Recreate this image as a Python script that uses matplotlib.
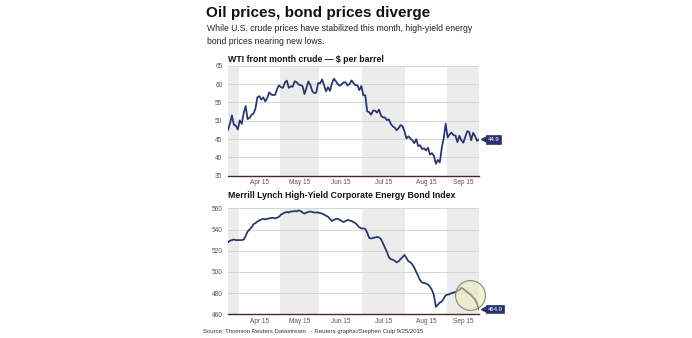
import matplotlib
matplotlib.use("Agg")
import matplotlib.pyplot as plt
import matplotlib.transforms as mtransforms
import numpy as np
import pandas as pd

plt.rcParams['font.family'] = ['Liberation Sans', 'DejaVu Sans']

# ---------------- data ----------------
holidays = ['2015-04-03', '2015-05-25', '2015-07-03', '2015-09-07']
dates = pd.bdate_range('2015-03-24', '2015-09-24')
dates = dates[~dates.isin(pd.to_datetime(holidays))]

wti = [
    47.51, 49.21, 51.43, 48.87, 48.68, 47.60,
    50.09, 49.14, 52.14, 53.98, 50.42, 50.79, 51.64, 51.91, 53.29, 56.39, 56.71,
    55.74, 56.38, 55.26, 56.16, 57.74, 57.15, 56.99, 57.06, 58.58, 59.63,
    59.15, 58.93, 60.40, 60.93, 58.94, 59.39, 59.25, 60.75, 60.50, 59.88, 59.69,
    59.43, 57.26, 58.98, 60.72, 59.72, 58.03, 57.51, 57.68, 60.30,
    60.20, 61.26, 59.64, 58.00, 59.13, 58.14, 60.14, 61.43, 60.77, 59.96, 59.52,
    59.97, 60.45, 60.45, 59.61, 60.01, 61.01, 60.27, 59.70, 59.63, 58.33, 59.47,
    56.96, 56.93, 52.53, 52.33, 51.65, 52.78, 52.74, 52.20, 53.04, 51.41, 50.91,
    50.89, 50.15, 50.36, 49.19, 48.45, 48.14, 47.39, 47.98, 48.79, 48.52, 47.12,
    45.17, 45.74, 45.15, 44.66, 43.87, 44.96, 43.08, 43.30, 42.23, 42.50, 41.87,
    42.62, 40.80, 41.14, 40.45, 38.24, 39.31, 38.60, 42.56, 45.22, 49.20,
    45.41, 46.25, 46.75, 46.05, 45.94, 44.15, 45.92, 44.63, 44.00, 45.59, 47.15,
    46.90, 44.68, 46.68, 45.83, 44.48, 44.91,
]

bond = [
    528, 529.5, 530, 530.5, 530, 530,
    530, 530, 530.5, 534, 538, 540, 542, 545, 546, 547.5, 548.5, 549.5, 550,
    549.5, 550, 550.5, 551, 551, 550.5, 551, 552,
    554, 555, 556, 556.5, 556, 557, 557, 557.5, 557, 558, 557.5, 556, 555, 556,
    556.5, 557, 556.5, 556, 556, 556,
    555.5, 555, 554, 553, 552, 550, 548, 549, 550, 550, 549, 548, 547, 548, 549,
    548.5, 548, 547, 546, 544, 542, 541,
    541, 540.5, 537, 532, 531.5, 532, 532.5, 533, 532.5, 531, 527, 523, 519, 514,
    512, 511.5, 510.5, 509, 510, 512, 514, 516,
    513, 510, 509, 507, 504, 500, 496, 492, 490, 489.5, 489, 488, 486, 483, 478,
    467, 469, 471, 472, 475, 478,
    478.5, 479, 480, 480.5, 481, 482, 483, 485, 484, 482.5, 481, 479.5, 478, 476,
    474, 470, 464.9,
]

wti_ticks = [35, 40, 45, 50, 55, 60, 65]
bond_ticks = [460, 480, 500, 520, 540, 560]
month_names = ['Apr 15', 'May 15', 'Jun 15', 'Jul 15', 'Aug 15', 'Sep 15']
shaded_months = [3, 5, 7, 9]

# ---------------- style ----------------
W, H = 692, 338
NAVY = '#26336e'
GRID = '#d6d6d6'
SHADE = '#ececec'
TICK = '#555555'
AXLINE = '#4a2a22'

fig = plt.figure(figsize=(W / 100, H / 100), dpi=100, facecolor='white')

def fx(x):
    return x / W

def fy(y):
    return 1 - y / H

x = np.arange(len(dates))
months = dates.month
n = len(dates)


def setup(ax, values, ticks, ylim):
    ax.set_xlim(0, n - 1)
    ax.set_ylim(*ylim)
    for m in shaded_months:
        idx = np.where(months == m)[0]
        if len(idx):
            ax.axvspan(idx[0] - 0.5, idx[-1] + 0.5, color=SHADE, lw=0, zorder=0)
    for t in ticks[1:]:
        ax.axhline(t, color=GRID, lw=0.7, zorder=1)
    ax.set_yticks(ticks)
    ax.set_yticklabels([str(t) for t in ticks])
    centers = []
    for m in range(4, 10):
        idx = np.where(months == m)[0]
        centers.append((idx[0] + idx[-1]) / 2)
    ax.set_xticks(centers)
    ax.set_xticklabels(month_names)
    ax.tick_params(axis='both', length=0, labelsize=4.7, colors=TICK)
    ax.tick_params(axis='y', pad=4)
    ax.tick_params(axis='x', pad=2.5)
    for s in ['top', 'right', 'left']:
        ax.spines[s].set_visible(False)
    ax.spines['bottom'].set_color(AXLINE)
    ax.spines['bottom'].set_linewidth(1.0)
    ax.set_facecolor('white')
    ax.plot(x, values, color=NAVY, lw=1.25, zorder=3, solid_joinstyle='round')
    last = values[-1]
    # value tag on the right
    off = mtransforms.ScaledTranslation(5 / 100, 0, fig.dpi_scale_trans)
    tr = ax.get_yaxis_transform() + off
    ax.plot([1.0], [last], marker='<', ms=4.5, color=NAVY, transform=tr,
            clip_on=False, zorder=5, mec=NAVY)
    ax.annotate(f"{last:.1f}", xy=(1.0, last), xycoords=('axes fraction', 'data'),
                xytext=(6.2, 0), textcoords='offset points', ha='left', va='center',
                fontsize=4.3, color='white',
                bbox=dict(boxstyle='square,pad=0.3', fc=NAVY, ec=NAVY, lw=0.5),
                annotation_clip=False, zorder=6)


ax1 = fig.add_axes([fx(228), fy(175.7), fx(479) - fx(228), fy(65.7) - fy(175.7)])
setup(ax1, wti, wti_ticks, (35, 65))

ax2 = fig.add_axes([fx(228), fy(314.3), fx(479) - fx(228), fy(208.3) - fy(314.3)])
setup(ax2, bond, bond_ticks, (460, 560))

# highlight circle on the bond chart
ax2.plot([123.3], [478.2], marker='o', ms=21.5, mfc='#eeeab0', mec='none',
         alpha=0.5, zorder=4, clip_on=False)
ax2.plot([123.3], [478.2], marker='o', ms=21.5, mfc='none', mec='#7f8f78',
         mew=0.8, zorder=4, clip_on=False)

# ---------------- text ----------------
fig.text(fx(206), fy(17), 'Oil prices, bond prices diverge', fontsize=11,
         fontweight='bold', color='#111111', ha='left', va='baseline')
fig.text(fx(207), fy(31), 'While U.S. crude prices have stabilized this month, high-yield energy',
         fontsize=6.2, color='#222222', ha='left', va='baseline')
fig.text(fx(207), fy(43.5), 'bond prices nearing new lows.',
         fontsize=6.2, color='#222222', ha='left', va='baseline')
fig.text(fx(228), fy(62.5), 'WTI front month crude \u2014 $ per barrel', fontsize=6.3,
         fontweight='bold', color='#111111', ha='left', va='baseline')
fig.text(fx(228), fy(198.5), 'Merrill Lynch High-Yield Corporate Energy Bond Index',
         fontsize=6.3, fontweight='bold', color='#111111', ha='left', va='baseline')
fig.text(fx(203), fy(333), 'Source: Thomson Reuters Datastream   - Reuters graphic/Stephen Culp 9/25/2015',
         fontsize=4.3, color='#333333', ha='left', va='baseline')

fig.savefig('out.png', dpi=100, facecolor='white')
